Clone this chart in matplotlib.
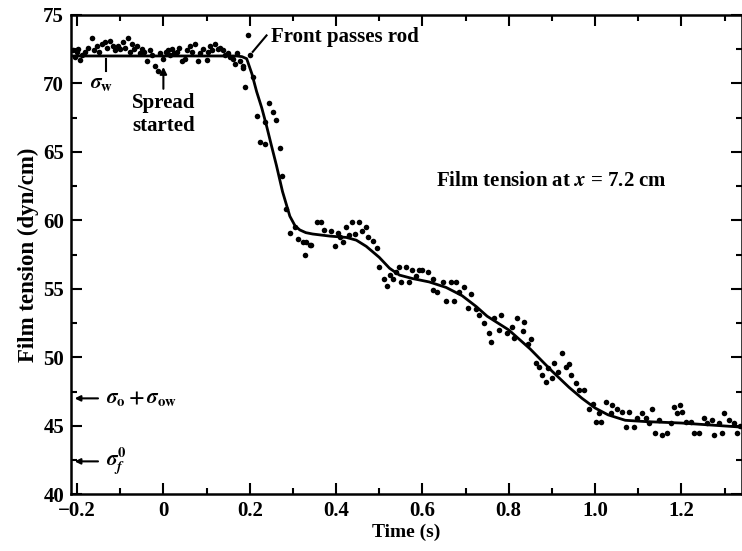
import matplotlib
matplotlib.use("Agg")
from matplotlib import pyplot as plt
from matplotlib.ticker import MultipleLocator
import numpy as np

plt.rcParams['font.family'] = ['Liberation Serif', 'DejaVu Serif']
plt.rcParams['font.weight'] = 'bold'
plt.rcParams['mathtext.fontset'] = 'stix'

# smooth fitted curve (time s, tension dyn/cm)
curve_t = [-0.214, 0.0, 0.17, 0.182, 0.193, 0.205, 0.216, 0.228, 0.239, 0.25,
           0.262, 0.276, 0.293, 0.305, 0.316, 0.33, 0.346, 0.385, 0.424, 0.447,
           0.47, 0.5, 0.524, 0.547, 0.577, 0.616, 0.655, 0.692, 0.725, 0.75,
           0.80, 0.85, 0.90, 0.94, 0.97, 1.00, 1.03, 1.07, 1.12, 1.20, 1.34]
curve_v = [72.0, 72.0, 72.0, 71.95, 71.8, 70.7, 69.4, 68.2, 66.9, 65.5,
           64.0, 62.1, 60.3, 59.6, 59.3, 59.1, 59.0, 58.85, 58.75, 58.55,
           58.1, 57.3, 56.5, 56.0, 55.75, 55.5, 55.1, 54.5, 53.7, 53.0,
           52.0, 50.6, 49.0, 47.8, 47.0, 46.3, 45.8, 45.4, 45.3, 45.2, 44.9]

# measured points
pts_t = [-0.209, -0.205, -0.2, -0.198, -0.193, -0.188, -0.181, -0.175, -0.165, -0.16,
         -0.154, -0.148, -0.142, -0.135, -0.13, -0.124, -0.117, -0.111, -0.105, -0.1,
         -0.094, -0.088, -0.082, -0.077, -0.073, -0.067, -0.061, -0.055, -0.05, -0.044,
         -0.038, -0.031, -0.026, -0.02, -0.013, -0.008, -0.001, 0.005, 0.01, 0.015,
         0.02, 0.025, 0.031, 0.037, 0.043, 0.05, 0.055, 0.061, 0.067, 0.073,
         0.08, 0.085, 0.091, 0.1, 0.104, 0.108, 0.113, 0.119, 0.126, 0.132,
         0.138, 0.143, 0.149, 0.155, 0.161, 0.165, 0.17, 0.177, 0.184, 0.184,
         0.189, 0.195, 0.2, 0.207, 0.216, 0.223, 0.235, 0.235, 0.244, 0.253,
         0.262, 0.27, 0.274, 0.285, 0.293, 0.304, 0.311, 0.323, 0.327, 0.331,
         0.339, 0.343, 0.355, 0.366, 0.373, 0.389, 0.397, 0.404, 0.41, 0.416,
         0.424, 0.43, 0.438, 0.445, 0.454, 0.459, 0.47, 0.473, 0.485, 0.494,
         0.5, 0.512, 0.517, 0.525, 0.531, 0.54, 0.547, 0.551, 0.563, 0.57,
         0.577, 0.585, 0.593, 0.6, 0.612, 0.624, 0.624, 0.635, 0.647, 0.655,
         0.667, 0.674, 0.678, 0.685, 0.697, 0.705, 0.713, 0.725, 0.732, 0.743,
         0.755, 0.759, 0.767, 0.778, 0.782, 0.797, 0.808, 0.813, 0.82, 0.832,
         0.836, 0.845, 0.852, 0.863, 0.87, 0.877, 0.886, 0.89, 0.901, 0.905,
         0.915, 0.924, 0.932, 0.94, 0.944, 0.955, 0.963, 0.975, 0.986, 0.995,
         1.002, 1.009, 1.013, 1.025, 1.037, 1.04, 1.052, 1.063, 1.072, 1.079,
         1.09, 1.098, 1.109, 1.117, 1.125, 1.132, 1.14, 1.148, 1.155, 1.167,
         1.175, 1.183, 1.19, 1.198, 1.202, 1.21, 1.222, 1.229, 1.24, 1.252,
         1.26, 1.271, 1.275, 1.287, 1.295, 1.298, 1.31, 1.322, 1.329, 1.335]
pts_v = [72.4, 71.9, 72.3, 72.5, 71.7, 72.1, 72.3, 72.6, 73.3, 72.4,
         72.7, 72.3, 72.9, 73.0, 72.6, 73.1, 72.7, 72.4, 72.7, 72.5,
         73.0, 72.6, 73.3, 72.3, 72.9, 72.5, 72.7, 72.2, 72.5, 72.3,
         71.6, 72.4, 72.1, 71.3, 70.9, 72.2, 71.8, 72.3, 72.4, 72.1,
         72.5, 72.2, 72.3, 72.6, 71.6, 71.8, 72.4, 72.7, 72.3, 72.9,
         71.6, 72.2, 72.5, 71.7, 72.3, 72.7, 72.4, 72.9, 72.5, 72.6,
         72.4, 72.1, 72.2, 71.9, 71.8, 71.4, 72.2, 71.6, 71.3, 71.1,
         69.7, 73.5, 72.1, 70.5, 67.6, 65.7, 67.2, 65.6, 68.6, 67.9,
         67.3, 65.3, 63.2, 60.8, 59.1, 59.5, 58.6, 58.4, 57.5, 58.4,
         58.2, 58.2, 59.9, 59.9, 59.3, 59.2, 58.1, 59.1, 58.8, 58.4,
         59.5, 58.9, 59.9, 59.0, 59.9, 59.2, 59.5, 58.8, 58.5, 58.0,
         56.6, 55.7, 55.2, 56.0, 55.7, 56.2, 56.6, 55.5, 56.6, 55.5,
         56.4, 55.9, 56.4, 56.4, 56.2, 55.7, 54.9, 54.8, 55.5, 54.1,
         55.5, 54.1, 55.5, 54.8, 55.1, 53.6, 54.6, 53.5, 53.1, 52.5,
         51.8, 51.1, 52.9, 52.0, 53.1, 51.8, 52.2, 51.4, 52.9, 51.9,
         52.6, 51.0, 51.3, 49.6, 49.3, 48.7, 48.2, 49.2, 48.5, 49.6,
         48.9, 50.3, 49.3, 49.5, 48.7, 48.1, 47.6, 47.6, 46.2, 46.6,
         45.3, 45.9, 45.3, 46.7, 45.9, 46.5, 46.2, 46.0, 44.9, 46.0,
         44.9, 45.6, 45.9, 45.6, 45.2, 46.2, 44.5, 45.4, 44.3, 44.5,
         45.2, 46.4, 45.9, 46.5, 46.0, 45.3, 45.3, 44.5, 44.5, 45.6,
         45.2, 45.4, 44.3, 45.2, 44.5, 45.9, 45.4, 45.2, 44.5, 45.0]

fig = plt.figure(figsize=(7.42, 5.51), dpi=100)
ax = fig.add_axes([0.0957, 0.103, 0.904, 0.87])

ax.plot(curve_t, curve_v, c='black', lw=2.0, zorder=3)
ax.scatter(pts_t, pts_v, s=16, c='black', linewidths=0, zorder=4)

ax.set_xlim(-0.214, 1.34)
ax.set_ylim(40, 75)
ax.xaxis.set_major_locator(MultipleLocator(0.2))
ax.xaxis.set_minor_locator(MultipleLocator(0.1))
ax.yaxis.set_major_locator(MultipleLocator(5))
ax.yaxis.set_minor_locator(MultipleLocator(2.5))
ax.set_xticks([-0.2, 0, 0.2, 0.4, 0.6, 0.8, 1.0, 1.2])
ax.set_xticklabels(['\u22120.2', '0', '0.2', '0.4', '0.6', '0.8', '1.0', '1.2'])
ax.tick_params(which='both', direction='in', top=True, right=True,
               width=1.5, labelsize=15, pad=5)
ax.tick_params(which='major', length=8)
ax.tick_params(which='minor', length=4)
for s in ax.spines.values():
    s.set_linewidth(1.8)

ax.set_xlabel('Time (s)', fontsize=14, fontweight='bold', labelpad=2)
ax.set_ylabel('Film tension (dyn/cm)', fontsize=16.5, fontweight='bold', labelpad=3)

# annotations
ax.plot([-0.133, -0.133], [71.8, 70.9], c='black', lw=1.5)
ax.text(-0.17, 70.0, r'$\sigma_{\mathbf{w}}$', fontsize=15, va='center', ha='left')

ax.annotate('', xy=(0.0, 71.4), xytext=(0.0, 69.4),
            arrowprops=dict(arrowstyle='-|>', color='black', lw=1.5, mutation_scale=10))
ax.text(0.0, 67.7, 'Spread\nstarted', fontsize=15, ha='center', va='center',
        linespacing=1.2)

ax.plot([0.239, 0.207], [73.5, 72.3], c='black', lw=1.5)
ax.text(0.25, 73.4, 'Front passes rod', fontsize=15, ha='left', va='center')

ax.text(0.632, 62.9, 'Film tension at $x$ = 7.2 cm', fontsize=15, ha='left', va='center')

ax.annotate('', xy=(-0.212, 47.0), xytext=(-0.145, 47.0),
            arrowprops=dict(arrowstyle='-|>', color='black', lw=1.5, mutation_scale=8))
ax.text(-0.133, 47.0, r'$\sigma_{\mathrm{o}}+\sigma_{\mathbf{ow}}$', fontsize=15,
        ha='left', va='center')

ax.annotate('', xy=(-0.212, 42.4), xytext=(-0.145, 42.4),
            arrowprops=dict(arrowstyle='-|>', color='black', lw=1.5, mutation_scale=8))
ax.text(-0.133, 42.4, r'$\sigma_f^0$', fontsize=15, ha='left', va='center')

fig.savefig('out.png', dpi=100)
